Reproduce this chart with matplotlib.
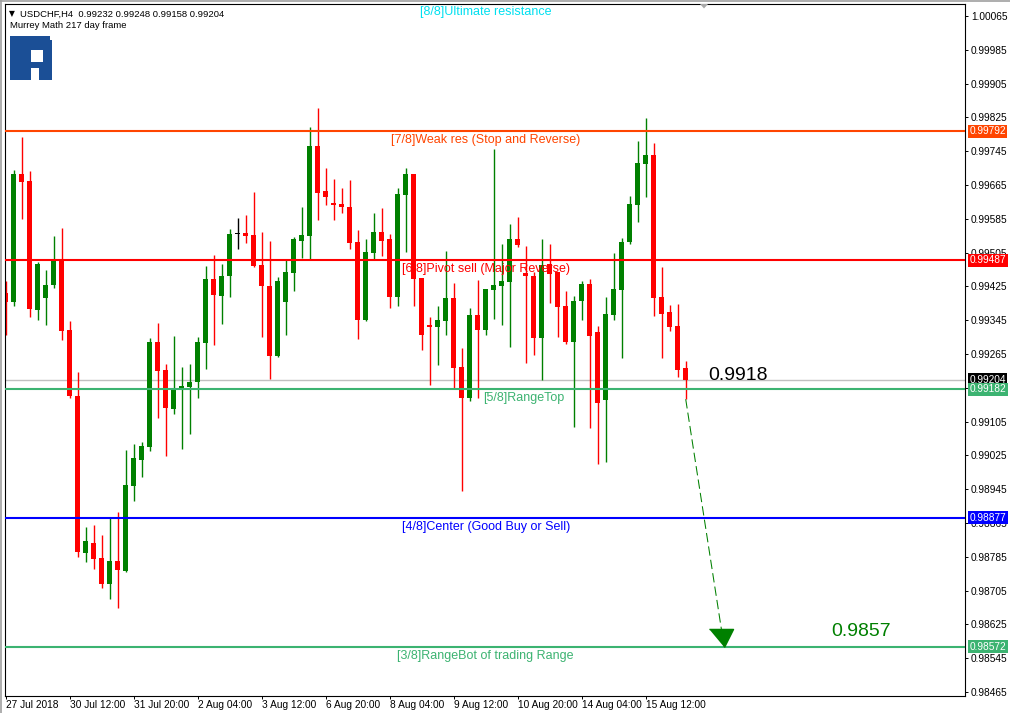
import matplotlib
matplotlib.use("Agg")
import matplotlib.pyplot as plt
from matplotlib.patches import Rectangle, Polygon
from matplotlib.lines import Line2D
import numpy as np

plt.rcParams['font.family'] = ['Liberation Sans', 'DejaVu Sans']

# USDCHF H4 candles (open, high, low, close)
opens = [0.99410, 0.99389, 0.99691, 0.99675, 0.99370, 0.99398, 0.99429, 0.99484, 0.99322, 0.99166,
         0.98795, 0.98817, 0.98782, 0.98721, 0.98775, 0.98751, 0.98953, 0.99015, 0.99045, 0.99293,
         0.99227, 0.99135, 0.99183, 0.99188, 0.99199, 0.99292, 0.99442, 0.99403, 0.99450, 0.99550,
         0.99551, 0.99547, 0.99476, 0.99426, 0.99261, 0.99389, 0.99457, 0.99533, 0.99545, 0.99757,
         0.99651, 0.99622, 0.99620, 0.99613, 0.99530, 0.99346, 0.99505, 0.99554, 0.99537, 0.99401,
         0.99642, 0.99691, 0.99445, 0.99332, 0.99330, 0.99344, 0.99397, 0.99234, 0.99162, 0.99357,
         0.99322, 0.99417, 0.99427, 0.99436, 0.99537, 0.99456, 0.99450, 0.99303, 0.99478, 0.99459,
         0.99378, 0.99294, 0.99390, 0.99431, 0.99317, 0.99155, 0.99358, 0.99417, 0.99530, 0.99618,
         0.99715, 0.99736, 0.99400, 0.99364, 0.99331, 0.99232]
highs = [0.99438, 0.99701, 0.99779, 0.99698, 0.99482, 0.99464, 0.99544, 0.99563, 0.99343, 0.99222,
         0.98855, 0.98860, 0.98836, 0.98879, 0.98891, 0.99038, 0.99052, 0.99057, 0.99303, 0.99338,
         0.99241, 0.99307, 0.99234, 0.99241, 0.99305, 0.99473, 0.99499, 0.99478, 0.99561, 0.99587,
         0.99594, 0.99648, 0.99554, 0.99532, 0.99447, 0.99490, 0.99542, 0.99613, 0.99802, 0.99847,
         0.99705, 0.99679, 0.99658, 0.99677, 0.99558, 0.99537, 0.99599, 0.99610, 0.99549, 0.99658,
         0.99705, 0.99692, 0.99446, 0.99352, 0.99378, 0.99509, 0.99433, 0.99279, 0.99374, 0.99440,
         0.99420, 0.99750, 0.99525, 0.99573, 0.99589, 0.99520, 0.99459, 0.99537, 0.99525, 0.99460,
         0.99414, 0.99402, 0.99438, 0.99442, 0.99331, 0.99400, 0.99504, 0.99539, 0.99639, 0.99769,
         0.99824, 0.99764, 0.99471, 0.99381, 0.99383, 0.99248]
lows = [0.99310, 0.99379, 0.99585, 0.99353, 0.99346, 0.99334, 0.99422, 0.99299, 0.99162, 0.98785,
        0.98773, 0.98757, 0.98712, 0.98685, 0.98664, 0.98749, 0.98918, 0.98974, 0.99036, 0.99114,
        0.99024, 0.99122, 0.99040, 0.99076, 0.99162, 0.99230, 0.99287, 0.99337, 0.99401, 0.99514,
        0.99528, 0.99472, 0.99306, 0.99206, 0.99259, 0.99311, 0.99415, 0.99493, 0.99487, 0.99583,
        0.99618, 0.99583, 0.99599, 0.99514, 0.99301, 0.99344, 0.99488, 0.99498, 0.99375, 0.99379,
        0.99507, 0.99379, 0.99275, 0.99192, 0.99240, 0.99311, 0.99183, 0.98941, 0.99154, 0.99162,
        0.99311, 0.99348, 0.99334, 0.99282, 0.99519, 0.99244, 0.99263, 0.99204, 0.99386, 0.99306,
        0.99289, 0.99093, 0.99346, 0.99090, 0.99005, 0.99010, 0.99346, 0.99256, 0.99525, 0.99578,
        0.99637, 0.99356, 0.99256, 0.99320, 0.99211, 0.99158]
closes = [0.99389, 0.99691, 0.99673, 0.99372, 0.99478, 0.99428, 0.99484, 0.99320, 0.99166, 0.98797,
          0.98822, 0.98780, 0.98721, 0.98775, 0.98754, 0.98955, 0.99019, 0.99047, 0.99293, 0.99225,
          0.99138, 0.99180, 0.99189, 0.99199, 0.99293, 0.99442, 0.99405, 0.99449, 0.99549, 0.99550,
          0.99545, 0.99474, 0.99427, 0.99261, 0.99438, 0.99459, 0.99537, 0.99547, 0.99757, 0.99647,
          0.99637, 0.99618, 0.99614, 0.99528, 0.99346, 0.99506, 0.99554, 0.99533, 0.99401, 0.99644,
          0.99691, 0.99443, 0.99311, 0.99330, 0.99345, 0.99397, 0.99233, 0.99162, 0.99357, 0.99322,
          0.99419, 0.99428, 0.99438, 0.99537, 0.99524, 0.99449, 0.99303, 0.99476, 0.99455, 0.99377,
          0.99294, 0.99390, 0.99431, 0.99308, 0.99150, 0.99360, 0.99419, 0.99530, 0.99620, 0.99717,
          0.99736, 0.99398, 0.99360, 0.99330, 0.99228, 0.99204]

date_labels = ["27 Jul 2018", "30 Jul 12:00", "31 Jul 20:00", "2 Aug 04:00", "3 Aug 12:00",
               "6 Aug 20:00", "8 Aug 04:00", "9 Aug 12:00", "10 Aug 20:00", "14 Aug 04:00",
               "15 Aug 12:00"]
date_idx = [0, 8, 16, 24, 32, 40, 48, 56, 64, 72, 80]

# Murrey Math levels
mm_levels = [1.00097, 0.99792, 0.99487, 0.99182, 0.98877, 0.98572]
mm_names = ["[8/8]Ultimate resistance", "[7/8]Weak res (Stop and Reverse)",
            "[6/8]Pivot sell (Major Reverse)", "[5/8]RangeTop",
            "[4/8]Center (Good Buy or Sell)", "[3/8]RangeBot of trading Range"]
mm_colors = ["#00e0f0", "#ff4500", "#ff0000", "#3cb371", "#0000ff", "#3cb371"]
mm_label_x = [60.0, 60.0, 60.0, 64.7, 60.0, 60.0]

last_price = 0.99204
forecast_from = (85, 0.99158)
forecast_to = (89.8, 0.98572)
text_now = "0.9918"
text_target = "0.9857"

W, H = 1010, 713
fig = plt.figure(figsize=(W / 100, H / 100), dpi=100)
ax = fig.add_axes([4.5 / W, (H - 696) / H, 960.5 / W, 692 / H])

x = np.arange(len(opens))
o = np.array(opens); c = np.array(closes)
cols = np.where(c > o, "#008000", np.where(c < o, "#ff0000", "#000000"))

ax.axhline(last_price, color="#c0c0c0", lw=1, zorder=1)
ax.vlines(x, lows, highs, colors=cols, lw=1, zorder=2)
body_h = np.maximum(np.abs(c - o), 0.000025)
ax.bar(x, body_h, bottom=np.minimum(o, c), width=0.62, color=cols, edgecolor=cols,
       linewidth=0, zorder=2)

for lvl, name, col, lx in zip(mm_levels, mm_names, mm_colors, mm_label_x):
    ax.axhline(lvl, color=col, lw=1.5, zorder=3)
    ax.annotate(name, xy=(lx, lvl), xytext=(0, -6.5), textcoords="offset points",
                ha="center", va="center", color=col, fontsize=9, zorder=4,
                annotation_clip=False)

# forecast arrow
ax.plot([forecast_from[0], forecast_to[0]], [forecast_from[1], forecast_to[1]],
        color="#008000", lw=0.75, dashes=(9, 4), zorder=4)
ax.plot(forecast_to[0], forecast_to[1], marker=[(-15, 18), (9, 18), (0, 0)],
        markersize=26, color="#008000", zorder=5)
ax.text(87.8, 0.99213, text_now, fontsize=14, color="black", ha="left", va="center", zorder=5)
ax.text(103.2, 0.98609, text_target, fontsize=14, color="#008000", ha="left", va="center", zorder=5)

ax.set_xlim(-0.15, 119.91)
ax.set_ylim(0.984555, 1.000934)

yt = [0.98465 + 0.0008 * k for k in range(21)]
ax.set_yticks(yt)
ax.set_yticklabels(["%.5f" % v for v in yt])
ax.yaxis.tick_right()
ax.tick_params(axis="y", direction="out", length=2.2, width=0.7, pad=2.2, labelsize=7.3)
ax.set_xticks(date_idx)
ax.set_xticklabels(date_labels, ha="left")
ax.tick_params(axis="x", direction="out", length=2.2, width=0.7, pad=0.8, labelsize=7.3)
for s in ax.spines.values():
    s.set_linewidth(0.8)

# price boxes on the scale
box_vals = [0.99792, 0.99487, last_price, 0.99182, 0.98877, 0.98572]
box_cols = ["#ff4500", "#ff0000", "#000000", "#3cb371", "#0000ff", "#3cb371"]
for v, col in zip(box_vals, box_cols):
    ax.annotate("%.5f" % v, xy=(1, v), xycoords=("axes fraction", "data"),
                xytext=(3.2, 0), textcoords="offset points", ha="left", va="center",
                color="white", fontsize=7.3, annotation_clip=False, zorder=6,
                bbox=dict(boxstyle="square,pad=0.15", fc=col, ec="none"))

# header
fig.text(9 / W, 1 - 16.5 / H, "\u25bc", fontsize=5.5, color="black", va="baseline",
         family=["DejaVu Sans"])
fig.text(20 / W, 1 - 16.5 / H, "USDCHF,H4  %.5f %.5f %.5f %.5f" %
         (opens[-1], highs[-1], lows[-1], closes[-1]), fontsize=6.8, va="baseline")
fig.text(10 / W, 1 - 28.3 / H, "Murrey Math 217 day frame", fontsize=6.8, va="baseline")

# logo
def px_rect(x0, y0, x1, y1, color):
    fig.add_artist(Rectangle((x0 / W, 1 - y1 / H), (x1 - x0) / W, (y1 - y0) / H,
                             transform=fig.transFigure, color=color, lw=0))

logo = "#1b4f96"
px_rect(9.5, 36, 50, 50, logo)
px_rect(9.5, 50, 31, 80, logo)
px_rect(43, 40, 52, 68, logo)
px_rect(31, 62, 52, 68, logo)
px_rect(38.5, 68, 51.5, 80, logo)

# window chrome bits
fig.add_artist(Line2D([0, 1], [1 - 0.8 / H, 1 - 0.8 / H], transform=fig.transFigure,
                      color="#a0a0a0", lw=1.2))
fig.add_artist(Line2D([1 / W, 1 / W], [0, 1], transform=fig.transFigure,
                      color="#a0a0a0", lw=1.2))
fig.add_artist(Polygon([(700 / W, 1 - 4 / H), (708 / W, 1 - 4 / H), (704 / W, 1 - 8.5 / H)],
                       closed=True, transform=fig.transFigure, color="#a8a8a8", lw=0))

fig.savefig("out.png", dpi=100)
